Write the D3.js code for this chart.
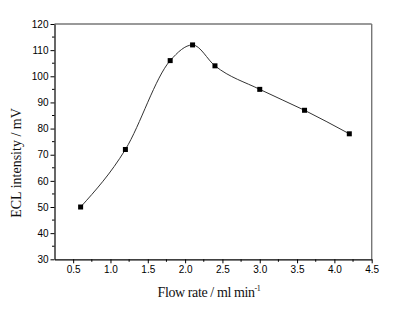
<!DOCTYPE html>
<html><head><meta charset="utf-8">
<script src="https://cdn.jsdelivr.net/npm/d3@7"></script>
<style>body{margin:0;background:#fff}svg{display:block}</style>
</head><body>
<svg id="c" width="401" height="324"></svg>
<script>
const flowRate = [0.6, 1.2, 1.8, 2.1, 2.4, 3.0, 3.6, 4.2];
const eclIntensity = [50, 72, 106, 112, 104, 95, 87, 78];
const xTicks = [0.5, 1.0, 1.5, 2.0, 2.5, 3.0, 3.5, 4.0, 4.5];
const yTicks = [30, 40, 50, 60, 70, 80, 90, 100, 110, 120];

const svg = d3.select("#c");
const L = 54.5, R = 371.7, T = 24, B = 259.3;
const x = d3.scaleLinear().domain([0.25, 4.5]).range([L, R]);
const y = d3.scaleLinear().domain([30, 120]).range([B, T]);

svg.append("line").attr("x1", L).attr("x2", R).attr("y1", T).attr("y2", T)
  .attr("stroke", "#777").attr("stroke-width", 1.4);
svg.append("line").attr("x1", R).attr("x2", R).attr("y1", T).attr("y2", B)
  .attr("stroke", "#777").attr("stroke-width", 1.4);

const xMinor = [0.75, 1.25, 1.75, 2.25, 2.75, 3.25, 3.75, 4.25];
const yMinor = [35, 45, 55, 65, 75, 85, 95, 105, 115];

const gx = svg.append("g").attr("transform", `translate(0,${B})`);
gx.call(d3.axisBottom(x).tickValues(xTicks).tickFormat(d3.format(".1f")).tickSize(4).tickPadding(3).tickSizeOuter(0));
gx.append("g").selectAll("line").data(xMinor).join("line")
  .attr("x1", d => x(d)).attr("x2", d => x(d)).attr("y1", 0).attr("y2", 2.5)
  .attr("stroke", "#000");

const gy = svg.append("g").attr("transform", `translate(${L},0)`);
gy.call(d3.axisLeft(y).tickValues(yTicks).tickSize(4).tickPadding(2).tickSizeOuter(0));
gy.append("g").selectAll("line").data(yMinor).join("line")
  .attr("y1", d => y(d)).attr("y2", d => y(d)).attr("x1", 0).attr("x2", -2.5)
  .attr("stroke", "#000");

[gx, gy].forEach(g => {
  g.selectAll("text").attr("font-family", "Liberation Sans, Arial, sans-serif")
    .attr("font-size", 10).attr("fill", "#000");
  g.select(".domain").attr("stroke", "#000").attr("stroke-width", 1.2);
  g.selectAll(".tick line").attr("stroke", "#000");
});

const pts = flowRate.map((v, i) => [v, eclIntensity[i]]);
const line = d3.line().x(d => x(d[0])).y(d => y(d[1])).curve(d3.curveMonotoneX);
svg.append("path").attr("d", line(pts)).attr("fill", "none")
  .attr("stroke", "#333").attr("stroke-width", 1);

svg.append("g").selectAll("rect").data(pts).join("rect")
  .attr("x", d => x(d[0]) - 2.5).attr("y", d => y(d[1]) - 2.5)
  .attr("width", 5).attr("height", 5).attr("fill", "#000");

const xt = svg.append("text").attr("x", 209).attr("y", 297).attr("text-anchor", "middle")
  .attr("font-family", "Liberation Serif, Times New Roman, serif").attr("font-size", 14)
  .attr("letter-spacing", -0.4).attr("fill", "#111");
xt.append("tspan").text("Flow rate / ml min");
xt.append("tspan").attr("font-size", 8).attr("dy", -6).text("-1");

svg.append("text").attr("transform", "translate(21,163) rotate(-90)")
  .attr("text-anchor", "middle")
  .attr("font-family", "Liberation Serif, Times New Roman, serif").attr("font-size", 14)
  .attr("fill", "#111").text("ECL intensity / mV");
</script>
</body></html>
